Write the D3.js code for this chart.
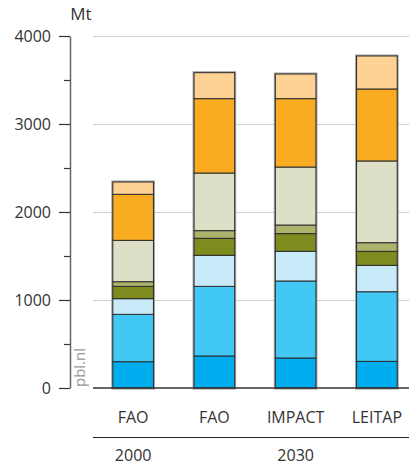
<!DOCTYPE html>
<html>
<head>
<meta charset="utf-8">
<script src="https://cdn.jsdelivr.net/npm/d3@7"></script>
<style>
html,body{margin:0;padding:0;background:#fff;}
svg{display:block;}
text{font-family:"Open Sans","Noto Sans",sans-serif;fill:#333;}
</style>
</head>
<body>
<svg id="chart" width="409" height="466"></svg>
<script>
// categories (bars)
const bars = ["FAO 2000", "FAO 2030", "IMPACT 2030", "LEITAP 2030"];
const barLabels = ["FAO", "FAO", "IMPACT", "LEITAP"];
const groups = [
  {label: "2000", members: ["FAO 2000"]},
  {label: "2030", members: ["FAO 2030", "IMPACT 2030", "LEITAP 2030"]}
];
// series values (Mt), bottom to top
const series1 = [299, 364, 341, 303];
const series2 = [538, 791, 875, 791];
const series3 = [178, 353, 337, 300];
const series4 = [140, 193, 201, 159];
const series5 = [53, 87, 98, 98];
const series6 = [470, 655, 659, 929];
const series7 = [523, 845, 777, 818];
const series8 = [140, 295, 280, 375];
const seriesList = [series1, series2, series3, series4, series5, series6, series7, series8];
const colors = ["#00adee", "#41c8f4", "#c8e9f8", "#7e8b1f", "#adb36c", "#dde0c6", "#f9ac22", "#fed294"];
const yTicks = [0, 1000, 2000, 3000, 4000];
const yMinorTicks = [500, 1500, 2500, 3500];

const svg = d3.select("#chart");
const x = d3.scaleBand().domain(bars).range([92.5, 417.5]).paddingInner(0.5).paddingOuter(0.25);
const y = d3.scaleLinear().domain([0, 4000]).range([388, 36]);

// gridlines
svg.append("g").selectAll("line").data(yTicks.filter(d => d > 0)).join("line")
  .attr("x1", 93).attr("x2", 409)
  .attr("y1", d => y(d) + 0.5).attr("y2", d => y(d) + 0.5)
  .attr("stroke", "#d0d0d0").attr("stroke-width", 1);

// stacked data
const table = bars.map((b, i) => {
  const o = {bar: b};
  seriesList.forEach((s, j) => o["s" + j] = s[i]);
  return o;
});
const keys = seriesList.map((s, j) => "s" + j);
const stack = d3.stack().keys(keys)(table);

// outer halo of bars
svg.append("g").selectAll("rect").data(table).join("rect")
  .attr("x", d => x(d.bar))
  .attr("width", x.bandwidth())
  .attr("y", d => y(d3.sum(keys, k => d[k])))
  .attr("height", d => y(0) - y(d3.sum(keys, k => d[k])))
  .attr("fill", "none").attr("stroke", "#a0a0a0").attr("stroke-width", 3);

const layers = svg.append("g").selectAll("g").data(stack).join("g")
  .attr("fill", (d, i) => colors[i]);
layers.selectAll("rect").data(d => d).join("rect")
  .attr("x", d => x(d.data.bar))
  .attr("width", x.bandwidth())
  .attr("y", d => y(d[1]))
  .attr("height", d => y(d[0]) - y(d[1]))
  .attr("stroke", "#2b2b2b").attr("stroke-width", 1);

// baseline
svg.append("line").attr("x1", 93).attr("x2", 409)
  .attr("y1", y(0)).attr("y2", y(0))
  .attr("stroke", "#333").attr("stroke-width", 1.5);

// y axis
const yAxis = svg.append("g").attr("transform", "translate(70,0)")
  .call(d3.axisLeft(y).tickValues(yTicks).tickFormat(d3.format("d")).tickSize(11).tickPadding(8).tickSizeOuter(0));
yAxis.select(".domain").attr("stroke", "#666").attr("stroke-width", 1.5);
yAxis.selectAll(".tick line").attr("stroke", "#333").attr("stroke-width", 1.2);
yAxis.selectAll(".tick text").attr("font-size", 16).attr("fill", "#333")
  .style("font-family", "'Open Sans','Noto Sans',sans-serif");
const yMinor = svg.append("g").attr("transform", "translate(70,0)")
  .call(d3.axisLeft(y).tickValues(yMinorTicks).tickSize(6).tickFormat(""));
yMinor.select(".domain").remove();
yMinor.selectAll(".tick line").attr("stroke", "#333").attr("stroke-width", 1.2);

// unit
svg.append("text").attr("x", 81).attr("y", 20).attr("text-anchor", "middle")
  .attr("font-size", 17).text("Mt");

// pbl.nl
svg.append("text").attr("transform", "translate(85,387) rotate(-90)")
  .attr("font-size", 15).style("fill", "#999").text("pbl.nl");

// category labels
svg.append("g").selectAll("text").data(bars).join("text")
  .attr("x", d => x(d) + x.bandwidth() / 2).attr("y", 423)
  .attr("text-anchor", "middle").attr("font-size", 16)
  .text((d, i) => barLabels[i]);

// group lines and labels
groups.forEach((g, gi) => {
  const first = g.members[0], last = g.members[g.members.length - 1];
  const x1 = gi === 0 ? 93 : x(first) - 32;
  const x2 = gi === 0 ? x(last) + x.bandwidth() + 13 : 409;
  svg.append("line").attr("x1", x1).attr("x2", x2)
    .attr("y1", 437.5).attr("y2", 437.5).attr("stroke", "#222").attr("stroke-width", 1.2);
  const cx = g.members.length === 1 ? x(first) + x.bandwidth() / 2
    : (x(g.members[1]) + x.bandwidth() / 2);
  svg.append("text").attr("x", cx).attr("y", 461).attr("text-anchor", "middle")
    .attr("font-size", 16).text(g.label);
});
</script>
</body>
</html>
